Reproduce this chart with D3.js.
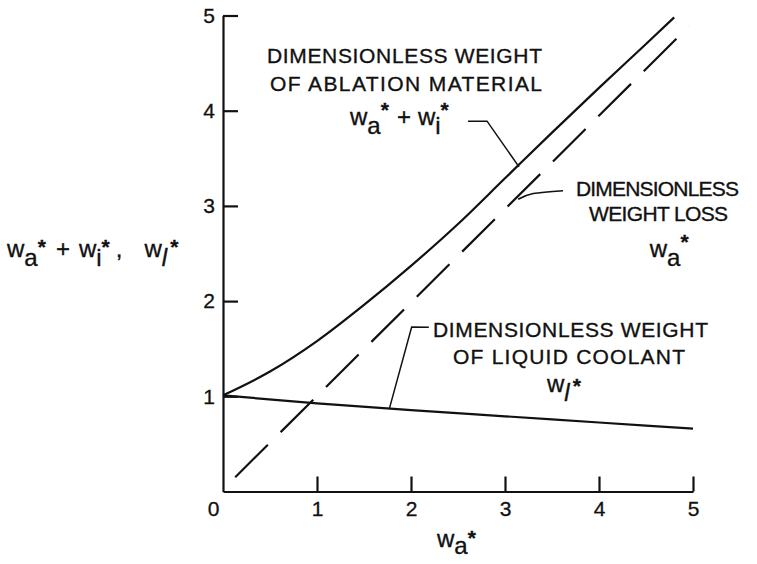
<!DOCTYPE html>
<html>
<head>
<meta charset="utf-8">
<script src="https://cdn.jsdelivr.net/npm/d3@7"></script>
<style>
  body { margin: 0; background: #fff; }
  text { font-family: "Liberation Sans", Arial, sans-serif; fill: #111; white-space: pre; }
  .axis path, .axis line { stroke: #111; stroke-width: 2.2px; }
  .axis text { font-size: 21px; font-family: "Liberation Sans", Arial, sans-serif; fill: #111; stroke: #111; stroke-width: 0.3px; }
  .note { stroke: #111; stroke-width: 0.35px; }
</style>
</head>
<body>
<div id="chart"></div>
<script>
// tick values on both axes
const xTicks = [0, 1, 2, 3, 4, 5];
const yTicks = [1, 2, 3, 4, 5];

// dimensionless weight of ablation material, wa* + wi*
const ablationX = [0, 0.5, 1, 1.5, 2, 2.5, 3, 3.5, 4, 4.5, 4.8];
const ablationY = [1.01, 1.26, 1.58, 1.96, 2.37, 2.81, 3.29, 3.77, 4.24, 4.70, 4.98];

// dimensionless weight loss, wa* (dashed)
const lossX = [0.13, 4.96];
const lossY = [0.15, 4.89];

// dimensionless weight of liquid coolant, wl*
const coolantX = [0, 1, 2, 3, 4, 5];
const coolantY = [1.01, 0.925, 0.855, 0.79, 0.725, 0.66];

const width = 757, height = 564;
// plot area in pixels
const plot = {left: 223, right: 693, top: 15.5, bottom: 491.5};

const svg = d3.select('#chart').append('svg')
  .attr('width', width).attr('height', height);

const x = d3.scaleLinear().domain([0, 5]).range([plot.left, plot.right]);
const y = d3.scaleLinear().domain([0, 5]).range([plot.bottom, plot.top]);

// write a label with sub/superscripts, parts = [{t, sub, sup, it, dx}]
function mathText(sel, px, py, parts, supShift, subShift = 9) {
  const t = sel.append('text').attr('class', 'note')
    .attr('x', px).attr('y', py).style('font-size', '24px');
  let shift = 0;
  parts.forEach(p => {
    const target = p.sub ? subShift : p.sup ? supShift : 0;
    const ts = t.append('tspan').attr('dy', target - shift).text(p.t);
    if (p.dx) ts.attr('dx', p.dx);
    if (p.sup) ts.style('font-size', '21px').style('font-weight', 'bold');
    if (p.it) ts.style('font-style', 'italic');
    shift = target;
  });
  return t;
}

// axes
const xAxis = svg.append('g')
  .attr('class', 'axis')
  .attr('transform', `translate(0,${y(0)})`)
  .call(d3.axisBottom(x).tickValues(xTicks).tickFormat(d3.format('d'))
    .tickSizeInner(-15).tickSizeOuter(0).tickPadding(10));
// the corner 0 sits left of the origin
xAxis.selectAll('.tick').filter(d => d === 0).select('text').attr('dx', '-10');
xAxis.selectAll('.tick').filter(d => d === 0).select('line').remove();

svg.append('g')
  .attr('class', 'axis')
  .attr('transform', `translate(${x(0)},0)`)
  .call(d3.axisLeft(y).tickValues(yTicks).tickFormat(d3.format('d'))
    .tickSizeInner(-15).tickSizeOuter(0).tickPadding(8));

// lines
const line = d3.line().curve(d3.curveMonotoneX).x(d => x(d[0])).y(d => y(d[1]));

svg.append('path')
  .attr('d', line(d3.zip(ablationX, ablationY)))
  .attr('fill', 'none').attr('stroke', '#111').attr('stroke-width', 2.2);

svg.append('path')
  .attr('d', line(d3.zip(lossX, lossY)))
  .attr('fill', 'none').attr('stroke', '#111').attr('stroke-width', 2.2)
  .attr('stroke-dasharray', '46,18');

svg.append('path')
  .attr('d', line(d3.zip(coolantX, coolantY)))
  .attr('fill', 'none').attr('stroke', '#111').attr('stroke-width', 2.2);

// leader lines from the notes to the curves
const leaders = [
  {pts: [[2.606, 3.89], [2.809, 3.89], [3.149, 3.41]], curve: d3.curveLinear},
  {pts: [[3.617, 3.16], [3.30, 3.13], [3.14, 3.07]], curve: d3.curveNatural},
  {pts: [[2.19, 1.725], [2.007, 1.728], [1.77, 0.87]], curve: d3.curveLinear}
];
leaders.forEach(l => {
  svg.append('path')
    .attr('d', d3.line().curve(l.curve).x(d => x(d[0])).y(d => y(d[1]))(l.pts))
    .attr('fill', 'none').attr('stroke', '#111').attr('stroke-width', 1.5);
});

// text notes, placed in data units
const notes = [
  {t: 'DIMENSIONLESS WEIGHT', x: 0.468, y: 4.50, len: 275},
  {t: 'OF ABLATION MATERIAL', x: 0.50, y: 4.207, len: 272},
  {t: 'DIMENSIONLESS', x: 3.755, y: 3.104, len: 163},
  {t: 'WEIGHT LOSS', x: 3.894, y: 2.84, len: 139},
  {t: 'DIMENSIONLESS WEIGHT', x: 2.234, y: 1.626, len: 275},
  {t: 'OF LIQUID COOLANT', x: 2.447, y: 1.34, len: 232}
];
notes.forEach(n => {
  svg.append('text').attr('class', 'note')
    .attr('x', x(n.x)).attr('y', y(n.y))
    .attr('textLength', n.len).attr('lengthAdjust', 'spacing')
    .style('font-size', '21px')
    .text(n.t);
});

mathText(svg, x(1.351), y(3.85), [
  {t: 'w'}, {t: 'a', sub: true}, {t: '*', sup: true}, {t: '+', dx: 8}, {t: 'w', dx: 7},
  {t: 'i', sub: true}, {t: '*', sup: true}
], -8);
mathText(svg, x(4.54), y(2.46), [
  {t: 'w'}, {t: 'a', sub: true}, {t: '*', sup: true}
], -8);
mathText(svg, x(3.447), y(1.045), [
  {t: 'w'}, {t: 'l', sub: true, it: true}, {t: '*', sup: true, dx: 3}
], 1);

// axis titles
mathText(svg, 7, 257, [
  {t: 'w'}, {t: 'a', sub: true}, {t: '*', sup: true}, {t: '+', dx: 10}, {t: 'w', dx: 9},
  {t: 'i', sub: true}, {t: '*', sup: true}, {t: ',', dx: 6}, {t: 'w', dx: 22},
  {t: 'l', sub: true, it: true}, {t: '*', sup: true, dx: 3}
], -3);
mathText(svg, 437, 547, [
  {t: 'w'}, {t: 'a', sub: true}, {t: '*', sup: true}
], -2, 7);
</script>
</body>
</html>
